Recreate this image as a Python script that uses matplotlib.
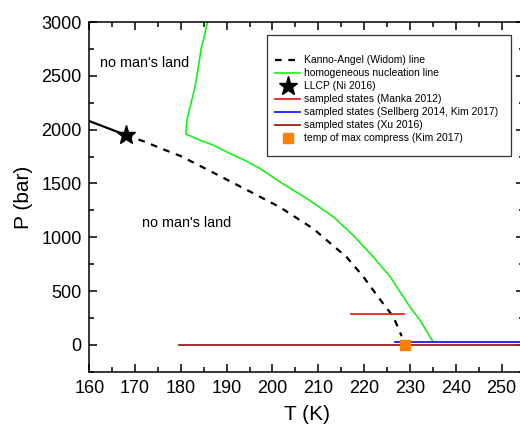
import numpy as np
import matplotlib.pyplot as plt
from matplotlib.patches import Rectangle
from matplotlib.ticker import MultipleLocator

plt.rcParams['font.family'] = ['Liberation Sans', 'DejaVu Sans']

# ------------------------------------------------------------
# Data
# ------------------------------------------------------------
# Kanno-Angel (Widom) line, dashed part below the LLCP
widom_T = [168.0, 172.0, 176.0, 180.0, 187.1, 194.4, 201.6, 208.9,
           212.6, 216.2, 219.8, 223.5, 226.4, 228.2]
widom_P = [1950, 1890, 1820, 1754, 1600, 1440, 1280, 1080,
           945, 815, 635, 420, 260, 80]

# solid continuation above the LLCP
llcp_line_T = [160.0, 168.0]
llcp_line_P = [2080, 1950]

# homogeneous nucleation line
nuc_T = [185.8, 184.9, 184.5, 183.8, 183.1, 182.0, 181.3, 181.1,
         184.2, 187.1, 190.7, 193.6, 197.3, 201.6, 207.5, 213.3,
         217.6, 222.0, 225.7, 230.0, 232.2, 235.1]
nuc_P = [3000, 2832, 2770, 2584, 2398, 2212, 2088, 1960,
         1902, 1856, 1779, 1723, 1639, 1515, 1360, 1190,
         1019, 818, 632, 353, 230, 25]

llcp_T, llcp_P = 168.0, 1950

manka_T = [217.1, 228.8]
manka_P = [290, 290]

sellberg_T = [226.7, 256.0]
sellberg_P = [30, 30]

xu_T = [179.5, 256.0]
xu_P = [0, 0]

tmc_T, tmc_P = 228.9, 0

# ------------------------------------------------------------
# Figure
# ------------------------------------------------------------
fig = plt.figure(figsize=(5.2, 4.34), dpi=100)
ax = fig.add_axes([0.1717, 0.1435, 1.0085 - 0.1717, 0.949 - 0.1435])

ax.plot(widom_T, widom_P, color='black', ls=(0, (3, 3)), lw=1.6,
        label='Kanno-Angel (Widom) line')
ax.plot(llcp_line_T, llcp_line_P, color='black', lw=1.6)
ax.plot(nuc_T, nuc_P, color='#1aee1a', lw=1.2,
        label='homogeneous nucleation line')
ax.plot([llcp_T], [llcp_P], ls='none', marker='*', color='black',
        markersize=14, label='LLCP (Ni 2016)', zorder=5)
ax.plot(manka_T, manka_P, color='#ee2222', lw=1.3,
        label='sampled states (Manka 2012)')
ax.plot(sellberg_T, sellberg_P, color='#1a1aee', lw=1.3,
        label='sampled states (Sellberg 2014, Kim 2017)')
ax.plot(xu_T, xu_P, color='#9a1f1f', lw=1.3,
        label='sampled states (Xu 2016)')
ax.plot([tmc_T], [tmc_P], ls='none', marker='s', color='#ff8000',
        markersize=7, label='temp of max compress (Kim 2017)', zorder=6)

ax.text(162.4, 2620, "no man's land", fontsize=10.4, va='center')
ax.text(171.4, 1130, "no man's land", fontsize=10.4, va='center')

ax.set_xlim(160, 255)
ax.set_ylim(-250, 3000)
ax.xaxis.set_major_locator(MultipleLocator(10))
ax.xaxis.set_minor_locator(MultipleLocator(5))
ax.yaxis.set_major_locator(MultipleLocator(500))
ax.yaxis.set_minor_locator(MultipleLocator(250))
ax.tick_params(which='both', direction='in', top=True, right=True,
               width=1.1, labelsize=13)
ax.tick_params(which='major', length=6)
ax.tick_params(axis='x', which='major', pad=6)
ax.tick_params(axis='y', which='major', pad=5.5)
ax.tick_params(which='minor', length=3.5)
for s in ax.spines.values():
    s.set_linewidth(1.1)

ax.set_xlabel('T (K)', fontsize=15, labelpad=6)
ax.set_ylabel('P (bar)', fontsize=15, labelpad=6)

# legend with its own frame
ax.add_patch(Rectangle((0.408, 0.617), 0.9696 - 0.408, 0.963 - 0.617,
                       transform=ax.transAxes, fill=False,
                       edgecolor='#333333', lw=0.9, zorder=7))
ax.legend(loc='upper left', bbox_to_anchor=(0.4272, 0.905), frameon=False,
          fontsize=7.5, handlelength=2.4, handletextpad=0.33,
          labelspacing=0.29, borderpad=0, borderaxespad=0)

fig.savefig('out.png', dpi=100)
